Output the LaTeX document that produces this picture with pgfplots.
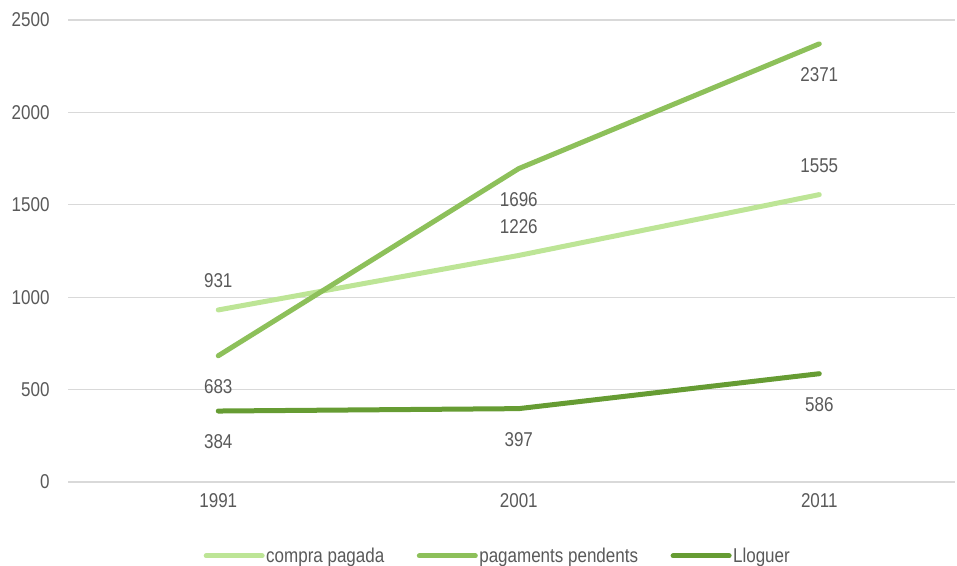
\documentclass[border=0pt]{standalone}
\usepackage{fontspec}
\setmainfont[FakeStretch=0.85]{Liberation Sans}
\usepackage{pgfplots}
\pgfplotsset{compat=1.18}
\definecolor{cA}{HTML}{BDE596}
\definecolor{cB}{HTML}{8DC05A}
\definecolor{cC}{HTML}{669C33}
\definecolor{txt}{HTML}{595959}
\definecolor{grd}{HTML}{D9D9D9}
\begin{document}
\begin{tikzpicture}
\useasboundingbox (-68bp,-84bp) rectangle (889bp,482bp);
\begin{axis}[
  scale only axis,
  width=886.5bp, height=462bp,
  xmin=-0.5, xmax=2.45, ymin=0, ymax=2500,
  xtick={0,1,2}, xticklabels={1991,2001,2011},
  ytick={0,500,1000,1500,2000,2500},
  ymajorgrids, grid style={grd, line width=1.3bp},
  axis line style={draw=none},
  tick style={draw=none},
  font=\fontsize{20bp}{23bp}\selectfont,
  /pgf/number format/assume math mode=true,
  /pgf/number format/1000 sep={},
  ticklabel style={text=txt},
  yticklabel style={xshift=-15bp},
  xticklabel style={yshift=-8bp},
  legend columns=3,
  legend style={at={(0.4845,-0.160)}, anchor=center, draw=none, fill=none,
    text=txt, inner sep=0pt,
    nodes={inner xsep=1.5bp},
    /tikz/every even column/.append style={column sep=31bp},
    font=\fontsize{20bp}{23bp}\selectfont},
  legend image code/.code={\draw[#1, line cap=round] (0bp,0bp) -- (56bp,0bp);},
  nodes near coords,
  every node near coord/.append style={text=txt, anchor=center},
]
\addplot[cA, line width=5bp, line cap=round, nodes near coords style={yshift=29bp}] coordinates {(0,931) (1,1226) (2,1555)};
\addlegendentry{compra pagada}
\addplot[cB, line width=5bp, line cap=round, nodes near coords style={yshift=-31bp}] coordinates {(0,683) (1,1696) (2,2371)};
\addlegendentry{pagaments pendents}
\addplot[cC, line width=5bp, line cap=round, nodes near coords style={yshift=-31bp}] coordinates {(0,384) (1,397) (2,586)};
\addlegendentry{Lloguer}
\end{axis}
\end{tikzpicture}
\end{document}
